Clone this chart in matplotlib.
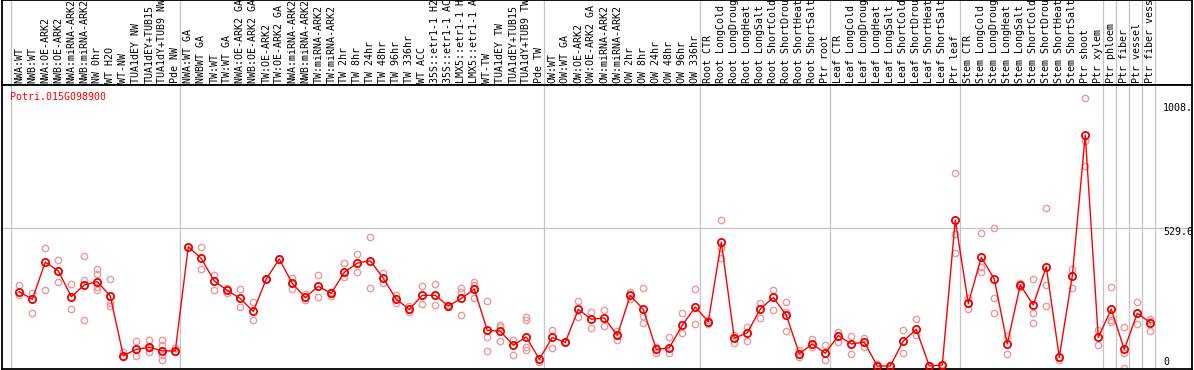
import matplotlib
matplotlib.use('Agg')
import matplotlib.pyplot as plt
import numpy as np

title = "Potri.015G098900"

labels = [
    "NWA:WT", "NWB:WT", "NWA:OE-ARK2", "NWB:OE-ARK2", "NWA:miRNA-ARK2", "NWB:miRNA-ARK2",
    "NW 0hr", "WT H2O", "WT-NW", "TUA1dEY NW", "TUA1dEY+TUB15", "TUA1dY+TUB9 NW", "Pde NW",
    "NWA:WT GA", "NWBWT GA", "TW:WT", "TW:WT GA", "NWA:OE-ARK2 GA", "NWB:OE-ARK2 GA",
    "TW:OE-ARK2", "TW:OE-ARK2 GA", "NWA:miRNA-ARK2", "NWB:miRNA-ARK2", "TW:miRNA-ARK2",
    "TW:miRNA-ARK2", "TW 2hr", "TW 8hr", "TW 24hr", "TW 48hr", "TW 96hr", "TW 336hr", "WT ACC",
    "35S::etr1-1 H2", "35S::etr1-1 AC", "LMX5::etr1-1 H", "LMX5::etr1-1 A", "WT-TW",
    "TUA1dEY TW", "TUA1dEY+TUB15", "TUA1dY+TUB9 TW", "Pde TW",
    "OW:WT", "OW:WT GA", "OW:OE-ARK2", "OW:OE-ARK2 GA", "OW:miRNA-ARK2", "OW:miRNA-ARK2",
    "OW 2hr", "OW 8hr", "OW 24hr", "OW 48hr", "OW 96hr", "OW 336hr",
    "Root CTR", "Root LongCold", "Root LongDroug", "Root LongHeat", "Root LongSalt",
    "Root ShortCold", "Root ShortDrou", "Root ShortHeat", "Root ShortSalt", "Ptr root",
    "Leaf CTR", "Leaf LongCold", "Leaf LongDroug", "Leaf LongHeat", "Leaf LongSalt",
    "Leaf ShortCold", "Leaf ShortDrou", "Leaf ShortHeat", "Leaf ShortSalt", "Ptr leaf",
    "Stem CTR", "Stem LongCold", "Stem LongDroug", "Stem LongHeat", "Stem LongSalt",
    "Stem ShortCold", "Stem ShortDrou", "Stem ShortHeat", "Stem ShortSalt",
    "Ptr shoot", "Ptr xylem", "Ptr phloem", "Ptr fiber", "Ptr vessel", "Ptr fiber vess",
]

means = [
    286, 257, 400, 366, 267, 312, 325, 269, 40, 64, 72, 58, 58,
    459, 414, 327, 291, 260, 210, 335, 412, 318, 264, 307, 280, 361, 396, 405,
    338, 257, 218, 272, 272, 231, 260, 296, 137, 134, 80, 112, 26,
    110, 91, 218, 180, 185, 118, 272, 218, 64, 70, 157, 227,
    171, 477, 107, 128, 219, 264, 196, 47, 85, 49,
    117, 85, 92, 0, 0, 96, 141, 0, 4, 562,
    241, 418, 335, 85, 312, 235, 382, 35, 346,
    889, 110, 219, 64, 203, 167,
]

replicates = [
    [312, 273], [280, 205], [453, 291], [407, 322], [314, 219], [422, 332, 176],
    [375, 355, 303, 294], [334, 241, 230], [55, 36], [95, 38], [99, 68, 55],
    [99, 81, 42, 22], [68, 55],
    [459], [457, 373], [350, 291], [299, 280], [296, 226], [248, 176], [335], [412],
    [340, 298], [278, 254], [349, 264], [286, 271], [395, 341], [431, 361], [495, 300],
    [357, 321], [273, 241], [232, 209], [308, 237], [317, 234], [235, 226],
    [301, 284, 196], [324, 312, 261], [249, 110, 58], [159, 149, 95], [99, 41],
    [190, 177, 73, 60], [17],
    [139, 68], [92], [249, 187], [209, 145], [214, 153], [135, 100], [286, 259],
    [299, 192, 164], [74, 51], [110, 49], [203, 127], [295, 160],
    [177, 160], [561, 453, 414], [119, 87], [149, 97], [241, 183], [294, 214],
    [245, 209, 133], [62, 35], [104, 73], [80, 22],
    [132, 91], [115, 45], [108, 74], [8, 0], [0, 3], [137, 51], [180, 119], [0, 2],
    [6, 2], [742, 508, 434],
    [261, 219], [511, 382, 363], [530, 261, 205], [117, 45], [318, 305],
    [334, 203, 164], [607, 312, 231], [23], [372, 299],
    [1030, 866, 771], [137, 81], [304, 176, 171], [149, 49, -8], [245, 162],
    [180, 136, 175],
]

# group separators: a line after these category indices
separators = [-1, 12, 40, 52, 62, 72, 83, 84, 85, 86, 87]

ytick_vals = [1008, 529.6, 0]
ytick_text = ["1008.", "529.6", "0"]
hlines = [529.6]

W, H = 1194, 370
fig = plt.figure(figsize=(W / 100, H / 100), dpi=100)
ax_lab = fig.add_axes([1.5 / W, (H - 85) / H, (1192 - 1.5) / W, 85 / H])
ax = fig.add_axes([1.5 / W, 1 / H, (1192 - 1.5) / W, 284 / H])

xlim = (-1.369, 90.21)
mono = 'DejaVu Sans Mono'
fs = 7.2
for a in (ax, ax_lab):
    a.set_xlim(*xlim)
    a.set_xticks([])
    a.set_yticks([])
    for s in a.spines.values():
        s.set_color('black')
        s.set_linewidth(1.3)
    for k in separators:
        a.axvline(k + 0.37, color='#c4c4c4', lw=0.9, zorder=0)

ax_lab.set_ylim(85, 0)
x = np.arange(len(labels))
for xi, lab in zip(x, labels):
    ax_lab.text(xi, 83, lab, rotation=90, ha='center', va='bottom', fontsize=fs,
                family=mono, clip_on=True)

ax.set_ylim(-11.5, 1081.6)
for h in hlines:
    ax.axhline(h, color='#c4c4c4', lw=0.9, zorder=0)

rx = np.concatenate([[i] * len(r) for i, r in enumerate(replicates)])
ry = np.concatenate([r for r in replicates])
ax.plot(rx, ry, 'o', ms=4.6, mfc='none', mec='#EE9A9A', mew=1.0, zorder=2, clip_on=True)
ax.plot(x, means, '-', color='#FF0000', lw=1.0, zorder=3)
ax.plot(x, means, 'o', ms=5.2, mfc='none', mec='#EE0000', mew=1.3, zorder=4)

offsets = [-3.7, -3.7, 4.3]
for v, t, o in zip(ytick_vals, ytick_text, offsets):
    ax.annotate(t, xy=((1163 - 19.3) / 13, v), xytext=(0, o), textcoords='offset pixels',
                ha='left', va='center', fontsize=fs, family=mono, color='black')

fig.text(10 / W, 1 - 97 / H, title, color='red', fontsize=fs, family=mono,
         ha='left', va='center')

fig.savefig('out.png', dpi=100)
